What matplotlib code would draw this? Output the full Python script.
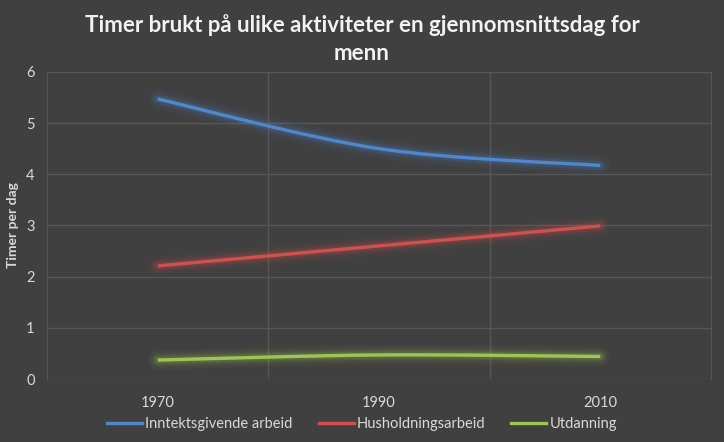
import matplotlib
matplotlib.use("Agg")
import matplotlib.pyplot as plt
from matplotlib.path import Path
from matplotlib.patches import PathPatch
from matplotlib.lines import Line2D

years = ["1970", "1990", "2010"]
inntekt = [5.47, 4.5, 4.17]
husholdning = [2.21, 2.6, 2.99]
utdanning = [0.37, 0.47, 0.44]

series_names = ["Inntektsgivende arbeid", "Husholdningsarbeid", "Utdanning"]
series_values = [inntekt, husholdning, utdanning]
colors = ["#4f86cc", "#d04f4f", "#9bc652"]

bg = "#404040"
grid_c = "#575757"
text_c = "#d9d9d9"

plt.rcParams["font.family"] = ["Lato", "DejaVu Sans"]


def smooth_path(xs, ys):
    # Excel-style smoothed line: cubic Bezier segments through the points
    pts = list(zip(xs, ys))
    n = len(pts)
    verts = [pts[0]]
    codes = [Path.MOVETO]
    for i in range(n - 1):
        p0 = pts[max(i - 1, 0)]
        p1 = pts[i]
        p2 = pts[i + 1]
        p3 = pts[min(i + 2, n - 1)]
        c1 = (p1[0] + (p2[0] - p0[0]) / 6, p1[1] + (p2[1] - p0[1]) / 6)
        c2 = (p2[0] - (p3[0] - p1[0]) / 6, p2[1] - (p3[1] - p1[1]) / 6)
        verts += [c1, c2, p2]
        codes += [Path.CURVE4] * 3
    return Path(verts, codes)


fig = plt.figure(figsize=(7.24, 4.42), dpi=100, facecolor=bg)
ax = fig.add_axes([0.065, 0.1425, 0.917, 0.695])
ax.set_facecolor(bg)

x = list(range(len(years)))
for name, vals, col in zip(series_names, series_values, colors):
    path = smooth_path(x, vals)
    # soft glow under the line
    for lw, a in [(14, 0.05), (10, 0.07), (7, 0.1), (5, 0.12)]:
        ax.add_patch(PathPatch(path, fill=False, edgecolor=col, lw=lw,
                               alpha=a, capstyle="round", joinstyle="round"))
    ax.add_patch(PathPatch(path, fill=False, edgecolor=col, lw=2.4,
                           capstyle="butt", joinstyle="round"))

ax.set_xlim(-0.5, len(years) - 0.5)
ax.set_ylim(0, 6)
ax.set_xticks(x)
ax.set_xticklabels(years)
ax.set_xticks([i + 0.5 for i in x[:-1]], minor=True)
ax.set_yticks(range(0, 7))
ax.tick_params(axis="both", which="both", length=0, colors=text_c, labelsize=10.5)
ax.tick_params(axis="x", pad=12)
ax.tick_params(axis="y", pad=9)
ax.grid(axis="y", which="major", color=grid_c, lw=1)
ax.grid(axis="x", which="minor", color=grid_c, lw=1)
ax.grid(axis="x", which="major", visible=False)
for side in ["left", "right", "top"]:
    ax.spines[side].set_color(grid_c)
ax.spines["bottom"].set_visible(False)
ax.set_axisbelow(True)

ax.set_ylabel("Timer per dag", color=text_c, fontsize=10, fontweight="bold")
ax.yaxis.set_label_coords(-0.043, 0.5)

fig.text(0.5, 0.943, "Timer brukt på ulike aktiviteter en gjennomsnittsdag for",
         ha="center", va="center", color="#f2f2f2", fontsize=16, fontweight="bold")
fig.text(0.5, 0.878, "menn", ha="center", va="center", color="#f2f2f2",
         fontsize=16, fontweight="bold")

handles = [Line2D([0], [0], color=c, lw=2.4) for c in colors]
leg = fig.legend(handles, series_names, loc="center", bbox_to_anchor=(0.5, 0.04),
                 ncol=3, frameon=False, fontsize=10.5, handlelength=2.4,
                 handletextpad=0.2, columnspacing=1.8)
for t in leg.get_texts():
    t.set_color(text_c)

fig.savefig("out.png", dpi=100, facecolor=bg)
